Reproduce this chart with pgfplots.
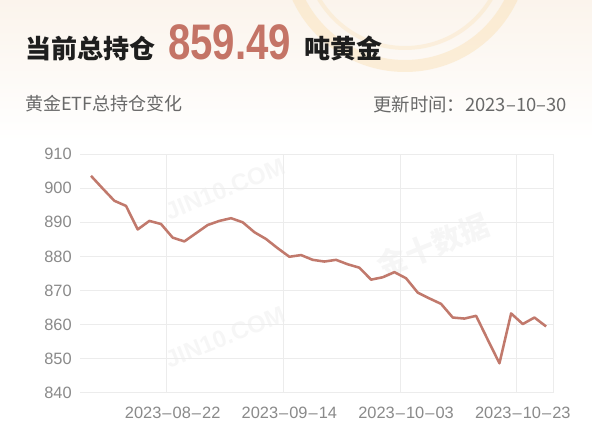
\documentclass[border=0pt]{standalone}
\usepackage{pgfplots}
\pgfplotsset{compat=1.18}
\usepackage{fontspec}
\usepackage{graphicx}
\setmainfont{Liberation Sans}
\newfontfamily\cjk{Noto Sans CJK SC}
\definecolor{linec}{RGB}{193,121,108}
\definecolor{numc}{RGB}{196,116,102}
\definecolor{gridc}{RGB}{236,236,236}
\definecolor{tickc}{RGB}{138,138,138}
\definecolor{subc}{RGB}{105,105,105}
\definecolor{titc}{RGB}{30,30,30}
\definecolor{ringc}{RGB}{250,224,180}
\definecolor{topc}{RGB}{251,244,236}

\pgfplotstableread{
i v
0 903.6
1 899.9
2 896.3
3 894.8
4 887.9
5 890.4
6 889.5
7 885.5
8 884.4
9 886.8
10 889.2
11 890.4
12 891.2
13 890.0
14 887.1
15 885.1
16 882.4
17 879.9
18 880.4
19 879.0
20 878.5
21 879.0
22 877.7
23 876.7
24 873.2
25 873.9
26 875.4
27 873.6
28 869.4
29 867.7
30 866.1
31 862.1
32 861.8
33 862.6
34 855.6
35 848.7
36 863.3
37 860.2
38 862.1
39 859.49
}\holdings

\begin{document}
\begin{tikzpicture}[x=0.75pt,y=0.75pt]
\path[use as bounding box, fill=white] (0,0) rectangle (592,441);
\begin{scope}
\clip (0,0) rectangle (592,441);
\shade[top color=topc, bottom color=white] (0,441) rectangle (592,300);
\draw[ringc, line width=9pt, opacity=0.45] (405,493) circle (118);
\draw[ringc, line width=3pt, opacity=0.35] (405,493) circle (100);
\end{scope}
% faint watermarks
\begin{scope}[opacity=0.035]
\node[rotate=22, font={\bfseries\fontsize{18}{20}\selectfont}, text=black] at (225,252) {JIN10.COM};
\node[rotate=22, font={\bfseries\fontsize{18}{20}\selectfont}, text=black] at (225,104) {JIN10.COM};
\node[rotate=22, font={\cjk\bfseries\fontsize{22}{24}\selectfont}, text=black] at (433,196) {金十数据};
\end{scope}
% title
\node[anchor=base west, inner sep=0pt, text=titc, font={\cjk\bfseries\fontsize{19.5}{22}\selectfont}] at (25,382) {当前总持仓};
\node[anchor=base west, inner sep=0pt, text=numc] at (168,381) {\scalebox{0.82}[1.02]{\fontsize{36.75}{40}\selectfont\bfseries 859.49}};
\node[anchor=base west, inner sep=0pt, text=titc, font={\cjk\bfseries\fontsize{19.5}{22}\selectfont}] at (304,382) {吨黄金};
\node[anchor=west, inner sep=0pt, text=subc, font={\cjk\fontsize{13.5}{16}\selectfont}] at (25,337) {黄金ETF总持仓变化};
\node[anchor=east, inner sep=0pt, text=subc, font={\cjk\fontsize{13.8}{16}\selectfont}] at (567,337) {更新时间：2023–10–30};
\begin{axis}[
  at={(60pt,36pt)}, anchor=south west,
  scale only axis, width=354.75pt, height=179.25pt,
  xmin=-0.943, xmax=39.59, ymin=840, ymax=910,
  ytick={840,850,...,910},
  xtick={7,17,27,37},
  xticklabels={2023\kern0.8pt–\kern0.8pt08\kern0.8pt–\kern0.8pt22,2023\kern0.8pt–\kern0.8pt09\kern0.8pt–\kern0.8pt14,2023\kern0.8pt–\kern0.8pt10\kern0.8pt–\kern0.8pt03,2023\kern0.8pt–\kern0.8pt10\kern0.8pt–\kern0.8pt23},
  ymajorgrids,
  grid style={draw=gridc, line width=0.75pt},
  extra x ticks={6.5,16.5,26.5,36.5,39.59},
  extra x tick labels={},
  extra x tick style={grid=major},
  axis line style={draw=none},
  major tick length=0pt,
  tick style={draw=none},
  ticklabel style={font={\fontsize{12.3}{14}\selectfont}, text=tickc},
  yticklabel style={anchor=east, inner sep=0pt, xshift=-6pt},
  xticklabel style={anchor=base, inner sep=0pt, yshift=-19.5pt},
  /pgf/number format/assume math mode=true,
  clip=false,
]
\addplot[linec, line width=1.9pt, line join=round, no markers] table[x=i, y=v] {\holdings};
\end{axis}
\end{tikzpicture}
\end{document}
